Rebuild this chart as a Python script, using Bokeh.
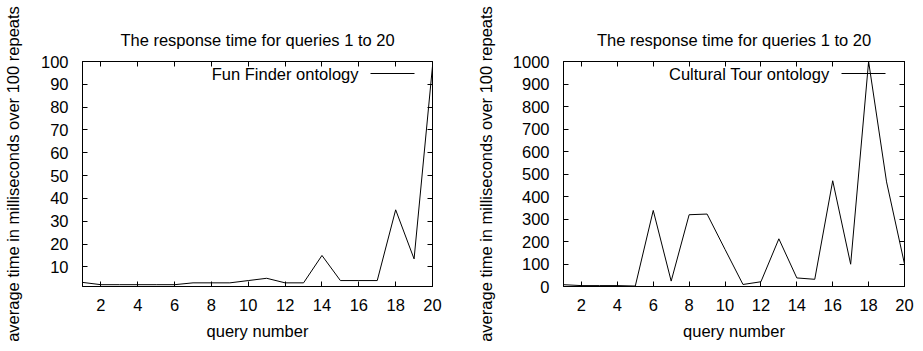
from bokeh.plotting import figure
from bokeh.layouts import row
from bokeh.models import (LinearAxis, SingleIntervalTicker, Range1d, Label, Arrow)
from bokeh.embed import file_html
from bokeh.resources import INLINE

queries = list(range(1, 21))
fun_finder = [3.2, 2.2, 2.2, 2.2, 2.2, 2.2, 3.0, 3.0, 3.0, 4.0,
              5.0, 3.0, 3.0, 15.0, 4.0, 4.0, 4.0, 35.0, 13.5, 98.0]
cultural_tour = [8, 4, 4, 4, 2, 338, 24, 319, 322, 165,
                 9, 21, 212, 38, 32, 470, 99, 1000, 465, 100]

title_text = "The response time for queries 1 to 20"
x_label = "query number"
y_label = "average time in milliseconds over 100 repeats"

FONT = "Liberation Sans"
FS = "16.5px"


def style_axis(ax, show_labels=True):
    ax.axis_line_color = "black"
    ax.axis_line_width = 1
    ax.major_tick_line_color = "black"
    ax.major_tick_in = 5
    ax.major_tick_out = 0
    ax.minor_tick_line_color = None
    ax.major_label_text_font = FONT
    ax.major_label_text_color = "black"
    ax.axis_label_text_font = FONT
    ax.axis_label_text_font_size = FS
    ax.axis_label_text_font_style = "normal"
    ax.axis_label_text_color = "black"
    if show_labels:
        ax.major_label_text_font_size = FS
    else:
        # mirror axis: ticks only, no labels drawn
        ax.major_label_text_font_size = "1px"
        ax.major_label_text_color = None
        ax.major_label_standoff = 0


def make_panel(values, ymin, ymax, ystep, legend_text, width, border_left,
               border_right, y_standoff):
    p = figure(width=width, height=342, output_backend="svg",
               toolbar_location=None,
               x_range=Range1d(1, 20), y_range=Range1d(ymin, ymax),
               min_border_left=border_left, min_border_right=border_right,
               min_border_top=61, min_border_bottom=55,
               x_axis_label=x_label, y_axis_label=y_label)
    p.title.text = title_text
    p.title.text_font = FONT
    p.title.text_font_size = FS
    p.title.text_font_style = "normal"
    p.title.text_color = "black"
    p.title.align = "center"
    p.title.standoff = 18
    p.grid.visible = False
    p.outline_line_color = "black"
    p.outline_line_alpha = 1.0
    p.background_fill_color = "white"
    p.border_fill_color = "white"

    p.xaxis[0].ticker = SingleIntervalTicker(interval=2)
    p.yaxis[0].ticker = SingleIntervalTicker(interval=ystep)
    style_axis(p.xaxis[0])
    style_axis(p.yaxis[0])
    p.xaxis[0].major_label_standoff = 8
    p.xaxis[0].axis_label_standoff = 8
    p.yaxis[0].major_label_standoff = 10
    p.yaxis[0].axis_label_standoff = y_standoff

    top = LinearAxis(ticker=SingleIntervalTicker(interval=2))
    style_axis(top, show_labels=False)
    p.add_layout(top, "above")
    right = LinearAxis(ticker=SingleIntervalTicker(interval=ystep))
    style_axis(right, show_labels=False)
    p.add_layout(right, "right")

    p.line(queries, values, line_color="black", line_width=1)

    fw = width - border_left - border_right
    # key: text then line sample (gnuplot style), near the top right
    p.add_layout(Label(x=fw - 76, y=213, x_units="screen", y_units="screen",
                       text=legend_text, text_font=FONT, text_font_size=FS,
                       text_color="black", text_align="right",
                       text_baseline="middle"))
    p.add_layout(Arrow(x_start=fw - 64, y_start=213, x_end=fw - 20, y_end=213,
                       start_units="screen", end_units="screen",
                       start=None, end=None,
                       line_color="black", line_width=1))
    return p


p1 = make_panel(fun_finder, 1.4, 100, 10, "Fun Finder ontology",
                473, 80, 41, 16)
p2 = make_panel(cultural_tour, 0, 1000, 100, "Cultural Tour ontology",
                441, 89, 10, 15)

layout = row(p1, p2)
open("out.html", "w").write(file_html(layout, INLINE))
